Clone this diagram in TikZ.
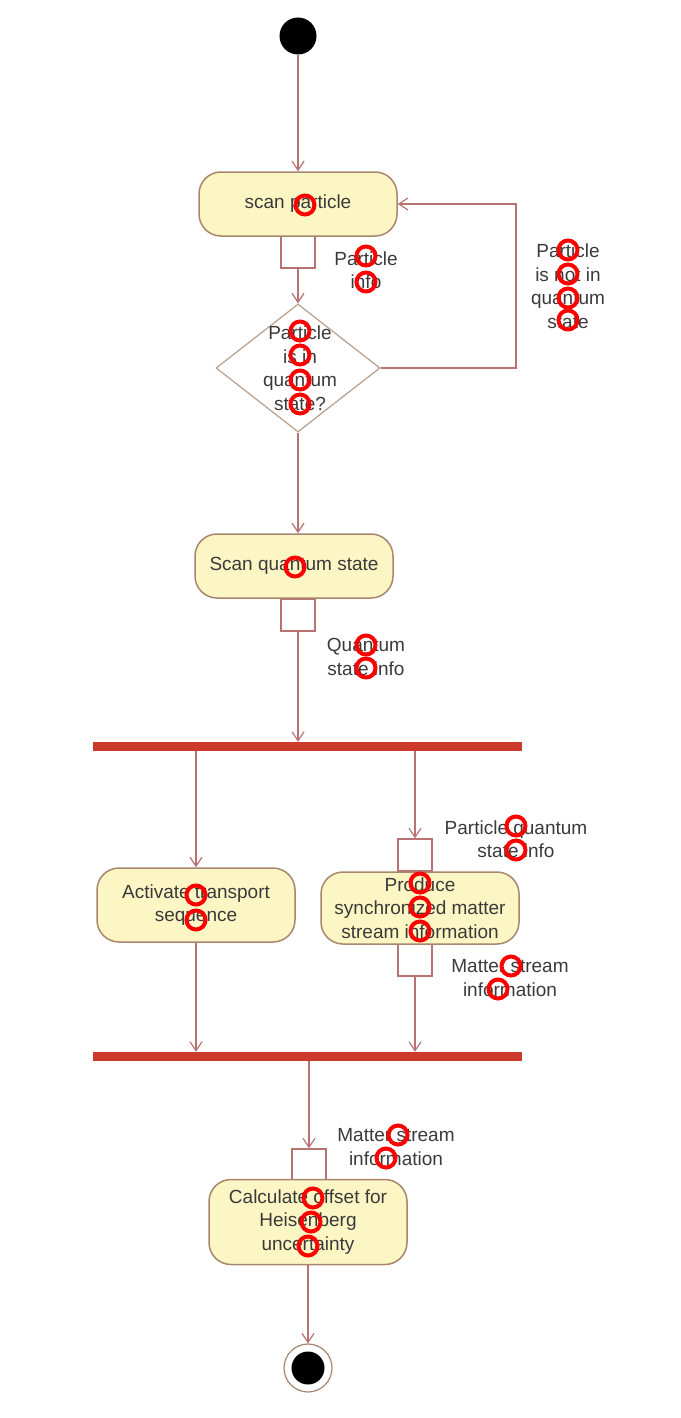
\documentclass[tikz,border=0pt]{standalone}
\usepackage{fontspec}
\setmainfont{Liberation Sans}
\usetikzlibrary{arrows.meta,shapes.geometric}
\definecolor{boxfill}{HTML}{FCF6C4}
\definecolor{boxline}{HTML}{A8866E}
\definecolor{arrc}{HTML}{B87272}
\definecolor{barc}{HTML}{CC3A2C}
\definecolor{txt}{HTML}{3A3A3A}
\definecolor{mark}{HTML}{FF0000}
\tikzset{
  x=1pt,y=-1pt,
  every node/.style={font=\fontsize{19}{23.5}\selectfont, text=txt},
  action/.style={draw=boxline, line width=1.5pt, fill=boxfill, rounded corners=22pt,
     minimum width=198pt, minimum height=64pt, align=center, inner sep=2pt},
  pinbox/.style={draw=arrc, line width=1.3pt, fill=white, minimum width=34pt, minimum height=32pt, inner sep=0pt},
  arr/.style={draw=arrc, line width=1.4pt, -{Straight Barb[length=9pt,width=12pt,line width=1.2pt]}},
  bar/.style={fill=barc, minimum width=429pt, minimum height=9pt, inner sep=0pt},
  lbl/.style={align=center, inner sep=0pt},
  ring/.style={draw=mark, line width=4pt, circle, minimum size=19pt, inner sep=0pt}
}
\begin{document}
\begin{tikzpicture}
\useasboundingbox (0,0) rectangle (680,1418);
% start
\node[circle, fill=black, minimum size=37pt, inner sep=0pt] (start) at (298,36) {};
% scan particle
\node[pinbox] (pin1) at (298,252) {};
\node[action] (scan) at (298,204) {scan particle};
\node[lbl] (l1) at (366,270) {Particle\\info};
% decision
\node[diamond, draw=boxline!80, line width=1.2pt, fill=white, minimum width=164pt, minimum height=128pt, inner sep=0pt] (dec) at (298,368) {};
\node[lbl] (dectext) at (300,368) {Particle\\is in\\quantum\\state?};
\node[lbl] (l2) at (568,286) {Particle\\is not in\\quantum\\state};
\coordinate (loop) at (516,204);
% scan quantum state
\node[pinbox] (pin2) at (298,615) {};
\node[action] (sqs) at (294,566) {Scan quantum state};
\node[lbl] (l3) at (366,657) {Quantum\\state info};
% fork
\node[bar] (fork) at (307.5,746.5) {};
% branches
\node[action, minimum height=74pt] (act) at (196,905) {Activate transport\\sequence};
\node[pinbox] (pin3) at (415,855) {};
\node[pinbox] (pin4) at (415,960) {};
\node[action, minimum height=72pt] (prod) at (420,908) {Produce\\synchronized matter\\stream information};
\node[lbl] (l4) at (516,839) {Particle quantum\\state info};
\node[lbl] (l5) at (510,978) {Matter stream\\information};
% join
\node[bar] (join) at (307.5,1056.5) {};
\node[pinbox] (pin5) at (309,1165) {};
\node[action, minimum height=85pt] (calc) at (308,1222) {Calculate offset for\\Heisenberg\\uncertainty};
\node[lbl] (l6) at (396,1147) {Matter stream\\information};
% end
\node[circle, draw=boxline, line width=1.2pt, fill=white, minimum size=48pt, inner sep=0pt] (endo) at (308,1368) {};
\node[circle, fill=black, minimum size=33pt, inner sep=0pt] (endi) at (endo) {};
% connectors
\draw[arr] (start) -- (scan.north);
\draw[arr] (pin1.south) -- (dec.north);
\draw[arr] (dec.east) -| (loop) -- (scan.east);
\draw[arr] (dec.south) -- (dec.south |- sqs.north);
\draw[arr] (pin2.south) -- (pin2.south |- fork.north);
\draw[arr] (act.north |- fork.south) -- (act.north);
\draw[arr] (pin3.north |- fork.south) -- (pin3.north);
\draw[arr] (act.south) -- (act.south |- join.north);
\draw[arr] (pin4.south) -- (pin4.south |- join.north);
\draw[arr] (pin5.north |- join.south) -- (pin5.north);
\draw[arr] (calc.south) -- (endo.north);
% marks
\foreach \p in {(305,205),(366,256),(366,282),(568,250),(568,274),(568,298),(568,320),
  (300,331),(300,355),(300,380),(300,404),(295,567),(366,645),(366,668),
  (516,826),(516,850),(196,895),(196,920),(420,883),(420,907),(420,931),
  (511,966),(498,989),(398,1135),(386,1158),(313,1198),(311,1222),(308,1246)}
  \node[ring] at \p {};
\end{tikzpicture}
\end{document}
